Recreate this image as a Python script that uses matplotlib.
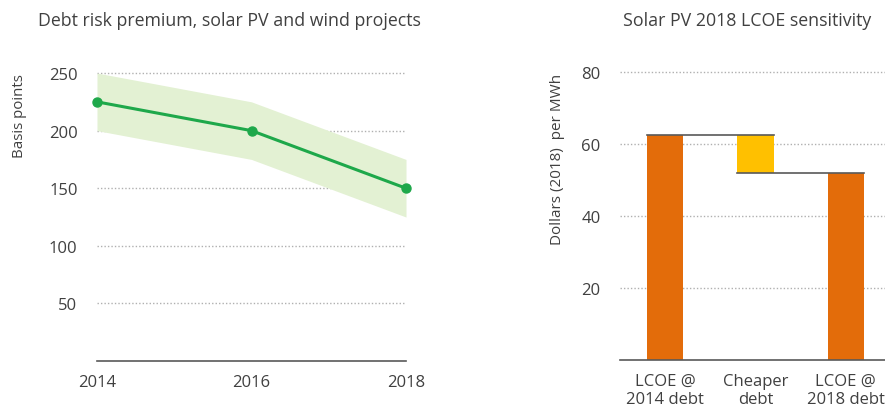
import numpy as np
import matplotlib.pyplot as plt

plt.rcParams["font.family"] = ["Open Sans", "DejaVu Sans"]

# ---- Left panel: debt risk premium
years = [2014, 2016, 2018]
premium = [225, 200, 150]
premium_low = [200, 175, 125]
premium_high = [250, 225, 175]

# ---- Right panel: LCOE waterfall
lcoe_labels = ["LCOE @\n2014 debt", "Cheaper\ndebt", "LCOE @\n2018 debt"]
lcoe_2014 = 62.5
cheaper_debt = -10.5
lcoe_2018 = 52.0

TEXT = "#404040"
GRID = "#b0b0b0"
AXIS = "#595959"
GREEN = "#1ea84a"
BAND = "#e3f1d3"
ORANGE = "#e36c0a"
YELLOW = "#ffc000"

fig = plt.figure(figsize=(8.85, 4.10), dpi=100)

# ----------------
# Left chart
# ----------------
ax1 = fig.add_axes([97 / 885, 0.117, 309 / 885, 0.7305])
ax1.fill_between(years, premium_low, premium_high, color=BAND, lw=0, zorder=2)
ax1.plot(years, premium, color=GREEN, lw=2.2, marker="o", ms=6.5,
         zorder=3, clip_on=False)

ax1.set_xlim(2014, 2018)
ax1.set_ylim(0, 260)
ax1.set_xticks(years)
ax1.set_yticks([50, 100, 150, 200, 250])
for v in [50, 100, 150, 200, 250]:
    ax1.axhline(v, color=GRID, lw=1, ls=(0, (1, 1.5)), zorder=1)
ax1.axhline(0, color=AXIS, lw=1.2, zorder=4, clip_on=False)

ax1.set_title("Debt risk premium, solar PV and wind projects",
              fontsize=12.8, color=TEXT, pad=26, x=0.43)
ax1.set_ylabel("Basis points", fontsize=10.8, color=TEXT)
ax1.yaxis.set_label_coords(-0.226, 0.82)

# ----------------
# Right chart
# ----------------
ax2 = fig.add_axes([620 / 885, 0.1195, 271 / 885, 0.7286])
x = np.arange(len(lcoe_labels))
heights = [lcoe_2014, -cheaper_debt, lcoe_2018]
bottoms = [0, lcoe_2014 + cheaper_debt, 0]
colors = [ORANGE, YELLOW, ORANGE]
w = 0.4
ax2.bar(x, heights, bottom=bottoms, width=w, color=colors, zorder=2)

# connector lines between steps
ax2.plot([x[0] - w / 2, x[1] + w / 2], [lcoe_2014, lcoe_2014],
         color=AXIS, lw=1.2, zorder=3)
ax2.plot([x[1] - w / 2, x[2] + w / 2],
         [lcoe_2014 + cheaper_debt, lcoe_2014 + cheaper_debt],
         color=AXIS, lw=1.2, zorder=3)

ax2.set_xlim(-0.5, 2.5)
ax2.set_ylim(0, 83)
ax2.set_xticks(x)
ax2.set_xticklabels(lcoe_labels)
ax2.set_yticks([20, 40, 60, 80])
for v in [20, 40, 60, 80]:
    ax2.axhline(v, color=GRID, lw=1, ls=(0, (1, 1.5)), zorder=1)
ax2.axhline(0, color=AXIS, lw=1.2, zorder=4, clip_on=False)

ax2.set_title("Solar PV 2018 LCOE sensitivity", fontsize=12.8, color=TEXT,
              pad=26, x=0.47)
ax2.set_ylabel("Dollars (2018)  per MWh", fontsize=11, color=TEXT)
ax2.yaxis.set_label_coords(-0.203, 0.675)

for ax in (ax1, ax2):
    for s in ax.spines.values():
        s.set_visible(False)
    ax.tick_params(length=0, labelsize=12, colors=TEXT)
    ax.tick_params(axis="x", pad=9)
    ax.tick_params(axis="y", pad=14)

fig.savefig("out.png", dpi=100, facecolor="white")
